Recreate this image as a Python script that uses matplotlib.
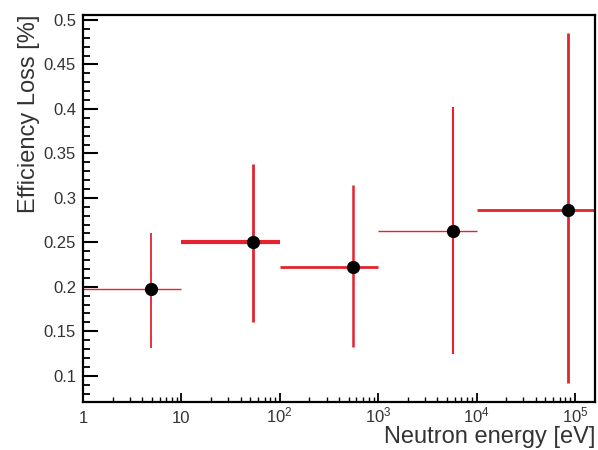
import matplotlib
matplotlib.use("Agg")
import matplotlib.pyplot as plt
from matplotlib.ticker import FixedLocator, FixedFormatter, MultipleLocator, LogLocator, NullFormatter
import numpy as np

plt.rcParams['font.family'] = ['Liberation Sans', 'DejaVu Sans']
plt.rcParams['mathtext.fontset'] = 'custom'
plt.rcParams['mathtext.rm'] = 'Liberation Sans'
plt.rcParams['mathtext.it'] = 'Liberation Sans'

# data
energy = [4.9, 54, 560, 5700, 85000]
bin_low = [1, 10, 100, 1000, 10000]
bin_high = [10, 100, 1000, 10000, 1000000]
eff_loss = [0.197, 0.250, 0.2225, 0.263, 0.286]
err_up = [0.260, 0.338, 0.314, 0.402, 0.485]
err_down = [0.131, 0.160, 0.1325, 0.125, 0.092]
xtick_vals = [1, 10, 100, 1000, 10000, 100000]
xtick_labels = ['1', '10', r'$10^{2}$', r'$10^{3}$', r'$10^{4}$', r'$10^{5}$']

h_widths = [1.0, 3.0, 2.0, 1.0, 2.0]
v_widths = [1.3, 2.0, 1.8, 1.5, 2.0]

fig = plt.figure(figsize=(5.98, 4.5), dpi=100)
ax = fig.add_axes([83/598, 48/450, 512/598, 387/450])

red = '#e3232e'
for i in range(len(energy)):
    ax.plot([bin_low[i], bin_high[i]], [eff_loss[i], eff_loss[i]], color=red,
            lw=h_widths[i], solid_capstyle='butt', zorder=2)
    ax.plot([energy[i], energy[i]], [err_down[i], err_up[i]], color=red,
            lw=v_widths[i], solid_capstyle='butt', zorder=2)
ax.plot(energy, eff_loss, 'o', color='black', ms=8.5, zorder=3)

ax.set_xscale('log')
ax.set_xlim(1, 1.6e5)
ax.set_ylim(0.0705, 0.5056)

ax.xaxis.set_major_locator(FixedLocator(xtick_vals))
ax.xaxis.set_major_formatter(FixedFormatter(xtick_labels))
ax.xaxis.set_minor_locator(LogLocator(base=10, subs=np.arange(2, 10), numticks=20))
ax.xaxis.set_minor_formatter(NullFormatter())
ax.yaxis.set_major_locator(MultipleLocator(0.05))
ax.yaxis.set_minor_locator(MultipleLocator(0.01))
ax.yaxis.set_major_formatter(plt.FuncFormatter(lambda v, p: ('%g' % round(v, 2))))

ax.tick_params(axis='y', which='major', direction='in', length=11, width=1.5,
               labelsize=12, pad=5, colors='black', labelcolor='#333333', right=False)
ax.tick_params(axis='y', which='minor', direction='in', length=5, width=1.3, right=False)
ax.tick_params(axis='x', which='major', direction='in', length=6.5, width=1.3,
               labelsize=12, pad=15, labelcolor='#333333', top=False)
ax.tick_params(axis='x', which='minor', direction='in', length=3.5, width=1.0, top=False)
for lab in ax.get_xticklabels():
    lab.set_verticalalignment('baseline')

for s in ax.spines.values():
    s.set_linewidth(1.6)
    s.set_color('black')

fig.text(595/598, 1 - 443/450, 'Neutron energy [eV]', fontsize=17, color='#333333',
         ha='right', va='baseline')
ax.set_ylabel('Efficiency Loss [%]', fontsize=17, color='#333333', ha='right', y=1.0, labelpad=3)

fig.savefig('out.png', dpi=100)
